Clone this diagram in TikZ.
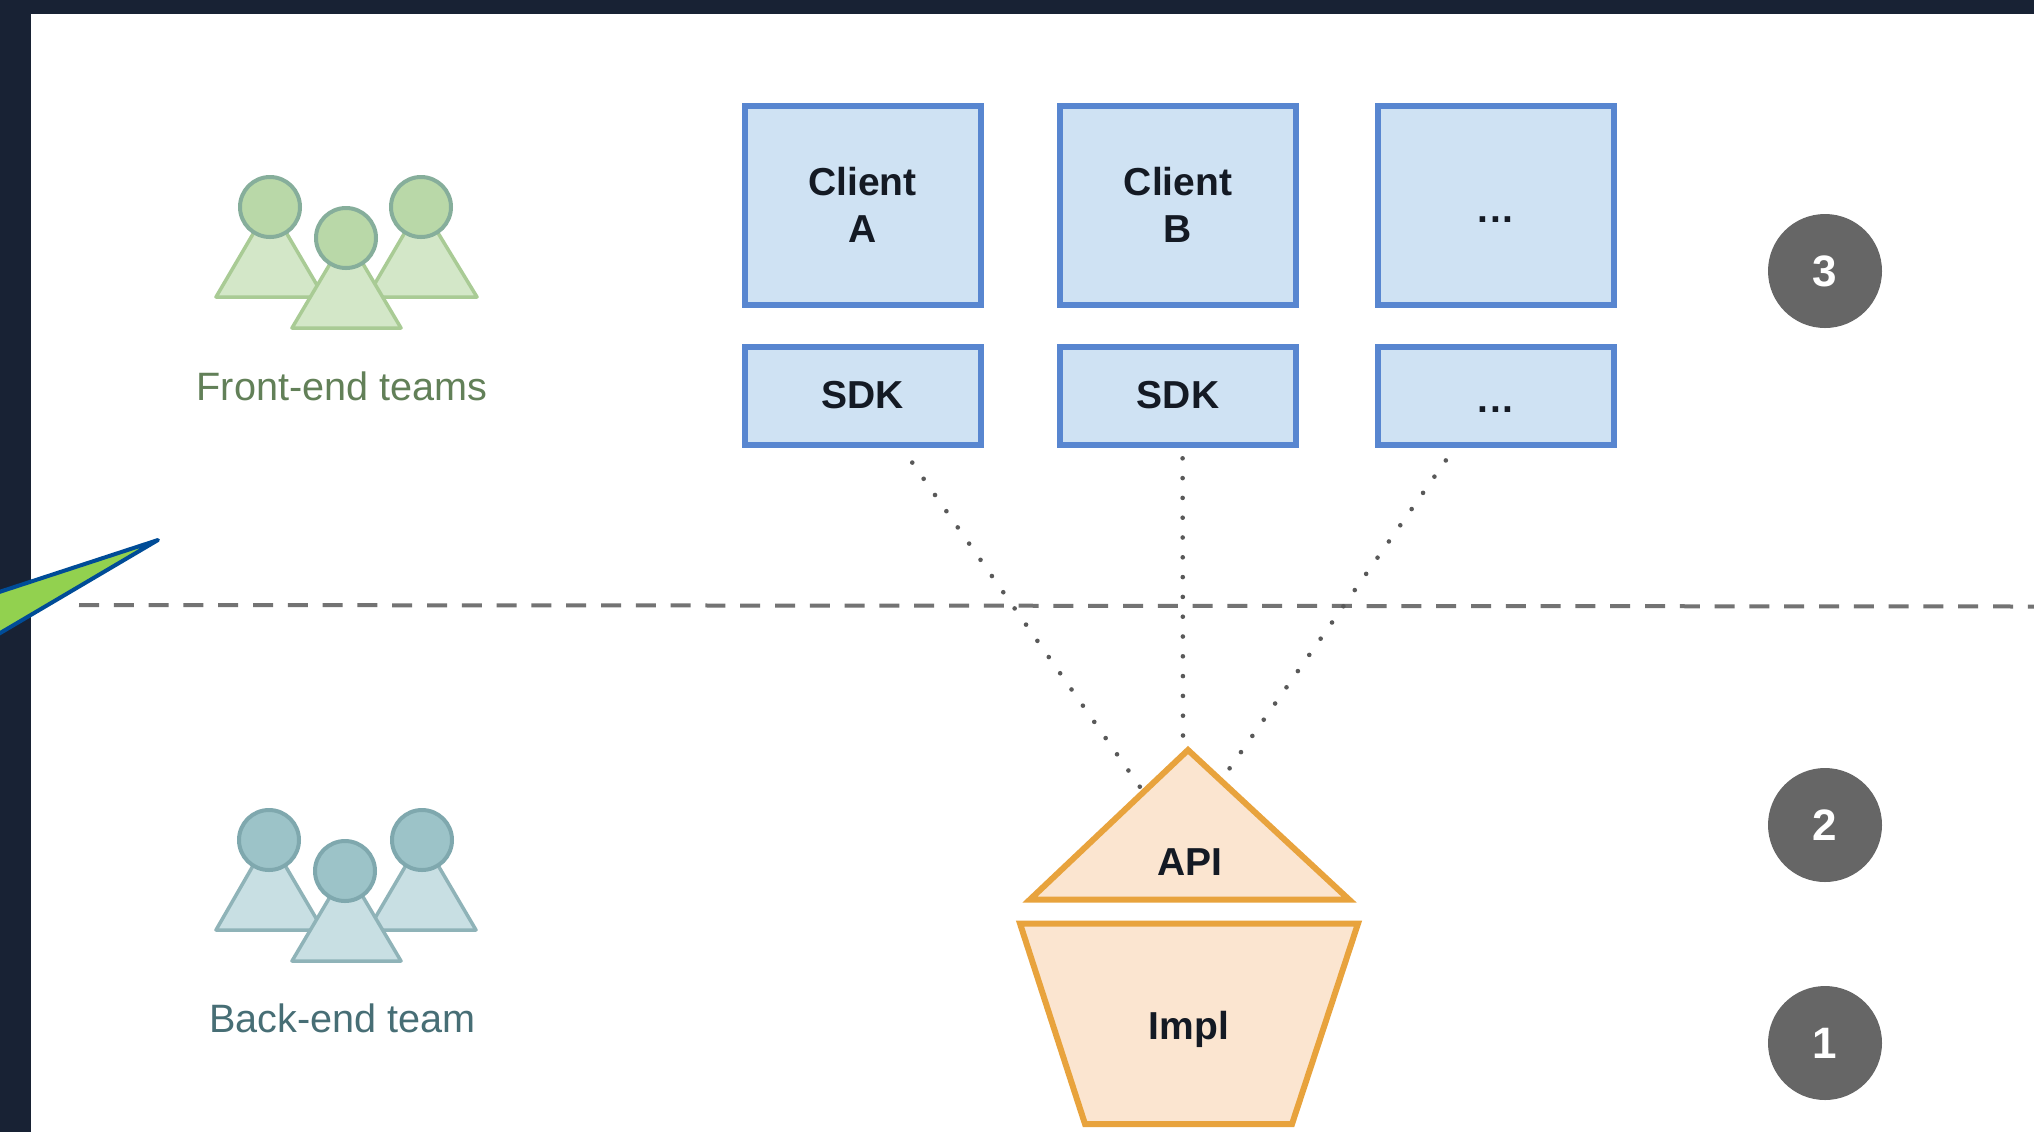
\documentclass[tikz,border=0pt]{standalone}
\usepackage{fontspec}
\setmainfont{Liberation Sans}
\definecolor{K}{RGB}{24, 34, 52}
\definecolor{T}{RGB}{20, 26, 36}
\definecolor{BD}{RGB}{88, 134, 208}
\definecolor{BF}{RGB}{207, 226, 243}
\definecolor{OD}{RGB}{232, 163, 61}
\definecolor{OF}{RGB}{251, 229, 208}
\definecolor{GC}{RGB}{185, 216, 168}
\definecolor{GE}{RGB}{134, 174, 155}
\definecolor{GF}{RGB}{211, 231, 200}
\definecolor{GD}{RGB}{169, 203, 149}
\definecolor{GT}{RGB}{98, 128, 88}
\definecolor{SC}{RGB}{156, 195, 200}
\definecolor{SE}{RGB}{127, 168, 174}
\definecolor{SF}{RGB}{200, 223, 227}
\definecolor{SD}{RGB}{143, 179, 184}
\definecolor{ST}{RGB}{71, 110, 117}
\definecolor{N}{RGB}{102, 102, 102}
\definecolor{W}{RGB}{146, 209, 79}
\definecolor{P}{RGB}{0, 76, 151}
\newcommand{\lowdots}{\raisebox{-8.5pt}[0pt][0pt]{.\kern0.8pt.\kern0.8pt.}}
\tikzset{
   boldtext/.style={font=\fontsize{19.5}{23.5}\selectfont\bfseries, text=T},
   clientbox/.style={draw=BD, fill=BF, line width=3pt, minimum width=118pt, minimum height=99.5pt, align=center, boldtext},
   sdkbox/.style={clientbox, minimum height=49pt},
   badge/.style={circle, fill=N, minimum size=57pt, inner sep=0pt, text=white, font=\fontsize{22}{26}\selectfont\bfseries},
   teamtext/.style={font=\fontsize{19.8}{24}\selectfont, anchor=base},
   frontbody/.style={draw=GD, fill=GF, line width=1.75pt, line join=round},
   fronthead/.style={draw=GE, fill=GC, line width=2pt},
   backbody/.style={draw=SD, fill=SF, line width=1.75pt, line join=round},
   backhead/.style={draw=SE, fill=SC, line width=2pt},
   apishape/.style={draw=OD, fill=OF, line width=3pt, line join=miter},
   sdklink/.style={draw=black!65, line width=2.3pt, line cap=round, dash pattern=on 0pt off 9.9pt}
}
\begin{document}
\begin{tikzpicture}[x=0.5pt, y=-0.5pt]
   \useasboundingbox (0,0) rectangle (2034,1132);
   \fill[K] (0,0) rectangle (2034,1132);
   \fill[white] (31,14) rectangle (2034,1132);
   % pointer on the frame
   \filldraw[draw=P, fill=W, line width=2pt, line join=round] (158,540) -- (-10,595) -- (-10,639) -- cycle;
   \draw[black!55, line width=2pt, dash pattern=on 10pt off 7.4pt] (79,605) -- (2034,606.5);
   % front-end people
   \draw[frontbody] (216,297) -- (270,205) -- (324,297) -- cycle;
   \draw[frontbody] (367,297) -- (421,205) -- (477,297) -- cycle;
   \draw[fronthead] (270,207) circle (30);
   \draw[fronthead] (421,207) circle (30);
   \draw[frontbody] (292,328) -- (346.5,236) -- (401,328) -- cycle;
   \draw[fronthead] (346,238) circle (30);
   \node[teamtext, text=GT] (frontlabel) at (342,400) {Front-end teams};
   % back-end people
   \draw[backbody] (216,930) -- (269,838) -- (323,930) -- cycle;
   \draw[backbody] (368,930) -- (422,838) -- (476,930) -- cycle;
   \draw[backhead] (269,840) circle (30);
   \draw[backhead] (422,840) circle (30);
   \draw[backbody] (292,961) -- (346.5,869) -- (401,961) -- cycle;
   \draw[backhead] (345,871) circle (30);
   \node[teamtext, text=ST] (backlabel) at (342.5,1032) {Back-end team};
   % clients and sdks
   \node[clientbox] (clientA) at (862.5,205) {Client\\A};
   \node[clientbox] (clientB) at (1178,205) {Client\\B};
   \node[clientbox] (clientC) at (1495.5,205) {\lowdots};
   \node[sdkbox] (sdkA) at (862.5,395.5) {SDK};
   \node[sdkbox] (sdkB) at (1178,395.5) {SDK};
   \node[sdkbox] (sdkC) at (1495.5,395.5) {\lowdots};
   % api and impl
   \draw[apishape] (1188,750) -- (1349,899.5) -- (1030,899.5) -- cycle;
   \draw[apishape] (1020,923.5) -- (1358,923.5) -- (1292,1124) -- (1085,1124) -- cycle;
   \node[boldtext] (api) at (1190,862) {API};
   \node[boldtext] (impl) at (1189,1029) {Impl};
   \coordinate (apiA) at (1140,787);
   \coordinate (apiB) at (1183,738);
   \coordinate (apiC) at (1227,772);
   \draw[sdklink, dash phase=0.7pt] (sdkA.-53.6) -- (apiA);
   \draw[sdklink, dash phase=4.5pt] (sdkB.-85.6) -- (apiB);
   \draw[sdklink, dash phase=2pt] (sdkC.-128) -- (apiC);
   % numbers
   \node[badge] (badge3) at (1825,271) {3};
   \node[badge] (badge2) at (1825,825) {2};
   \node[badge] (badge1) at (1825,1043) {1};
\end{tikzpicture}
\end{document}
